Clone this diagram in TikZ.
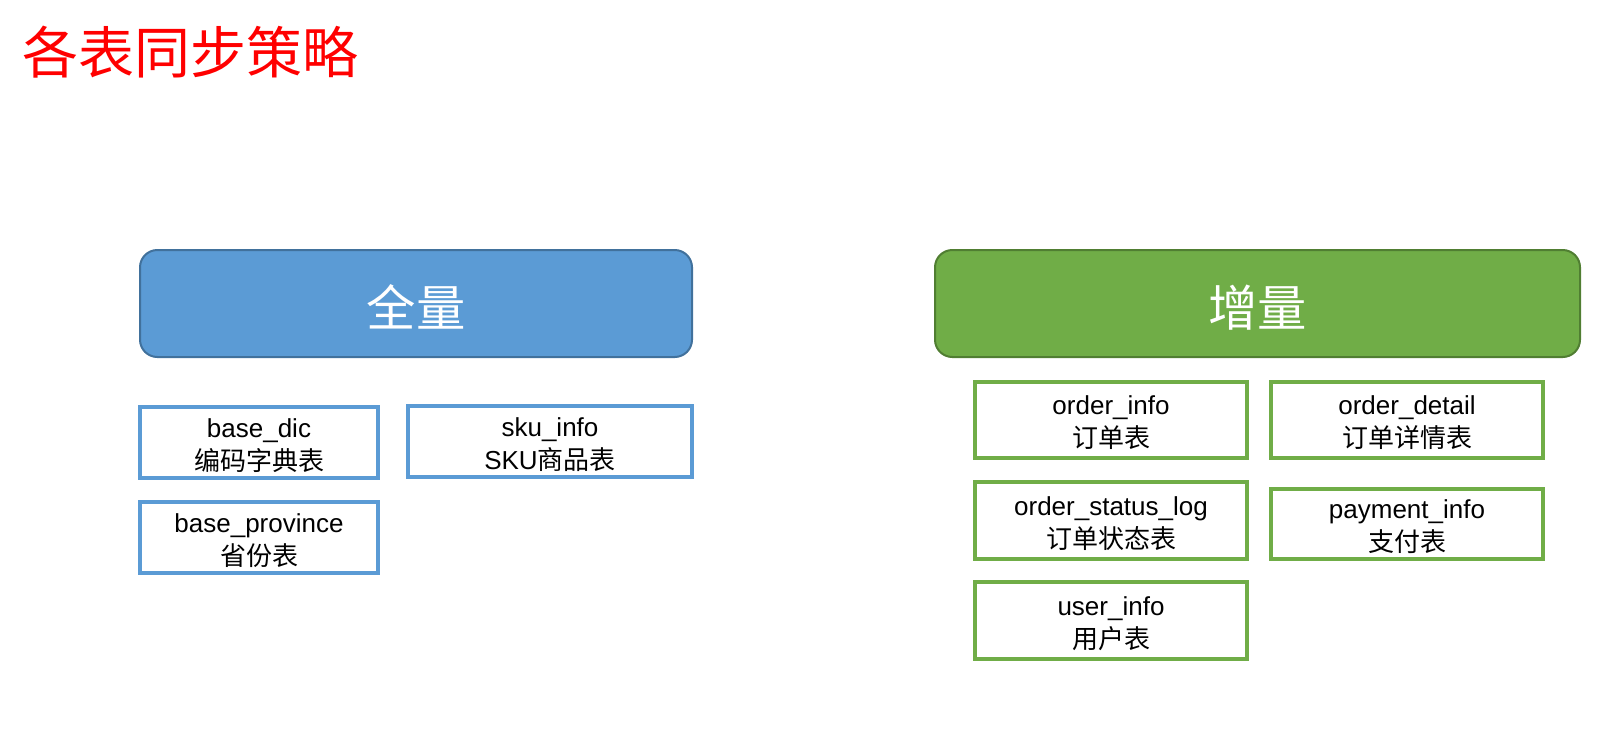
\documentclass[tikz,border=0pt]{standalone}
\usepackage{fontspec}
\setmainfont{Liberation Sans}
\newfontfamily\cjk{Noto Sans CJK SC}
\definecolor{bluefill}{HTML}{5B9BD5}
\definecolor{blueedge}{HTML}{41719C}
\definecolor{greenfill}{HTML}{70AD47}
\definecolor{greenedge}{HTML}{507E32}
\definecolor{titlered}{HTML}{FF0000}
\newcommand\boxstrut{\rule{0pt}{18.5pt}}
\newcommand\headstrut{\rule{0pt}{37pt}}
\tikzset{
  header/.style={rounded corners=13pt, line width=1.5pt, inner sep=0pt, outer sep=0pt,
    minimum height=80.25pt, text=white, font=\cjk\fontsize{37}{40}\selectfont},
  bluehead/.style={header, fill=bluefill, draw=blueedge, minimum width=414pt},
  greenhead/.style={header, fill=greenfill, draw=greenedge, minimum width=483.75pt},
  tablebox/.style={draw, line width=2.3pt, fill=white, inner sep=0pt, outer sep=0pt, align=center,
    font=\fontsize{19.5}{24.5}\selectfont},
  bluebox/.style={tablebox, draw=bluefill, minimum height=53.25pt},
  greenbox/.style={tablebox, draw=greenfill, minimum width=204pt, minimum height=57pt},
}
\begin{document}
\begin{tikzpicture}[x=0.75pt, y=-0.75pt]
\useasboundingbox (0,0) rectangle (1624,744);
\node[anchor=west, inner sep=0pt, text=titlered, font=\cjk\fontsize{42}{46}\selectfont] (title) at (22,52) {各表同步策略};

\node[bluehead] (full) at (416,303.5) {\headstrut 全量};
\node[bluebox, minimum width=178.5pt] (basedic) at (259,442.5) {\boxstrut base\_dic\\{\cjk 编码字典表}};
\node[bluebox, minimum width=213pt] (sku) at (550,441.5) {\boxstrut sku\_info\\SKU{\cjk 商品表}};
\node[bluebox, minimum width=178.5pt] (prov) at (259,537.5) {\boxstrut base\_province\\{\cjk 省份表}};

\node[greenhead] (incr) at (1257.5,303.5) {\headstrut 增量};
\node[greenbox] (oinfo) at (1111,420) {\boxstrut order\_info\\{\cjk 订单表}};
\node[greenbox] (odetail) at (1407,420) {\boxstrut order\_detail\\{\cjk 订单详情表}};
\node[greenbox, minimum height=57.75pt] (olog) at (1111,520.5) {\boxstrut order\_status\_log\\{\cjk 订单状态表}};
\node[greenbox, minimum height=52.5pt] (pay) at (1407,524) {\boxstrut payment\_info\\{\cjk 支付表}};
\node[greenbox, minimum height=57.75pt] (user) at (1111,620.5) {\boxstrut user\_info\\{\cjk 用户表}};
\end{tikzpicture}
\end{document}
